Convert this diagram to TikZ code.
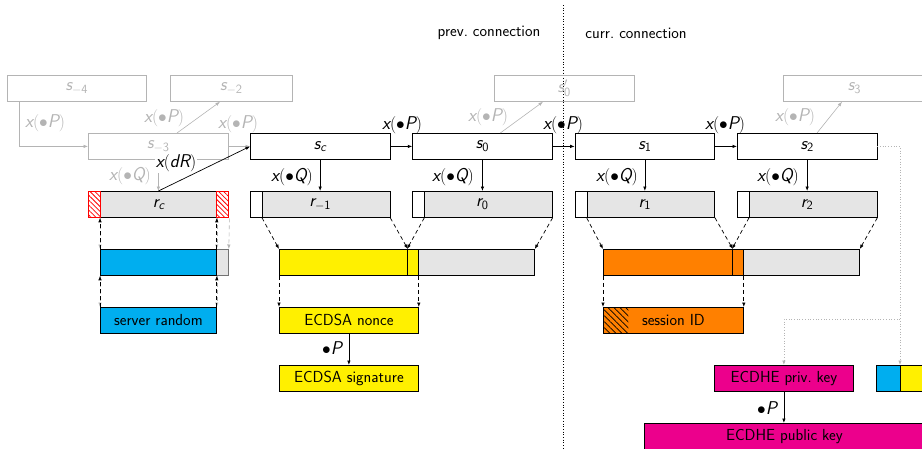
\documentclass[tikz,border=0pt]{standalone}
\usepackage{fontspec}
\usetikzlibrary{arrows.meta,patterns.meta,calc}
\DeclareMathAlphabet{\msl}{TU}{lmss}{m}{sl}
\DeclareMathAlphabet{\msf}{TU}{lmss}{m}{n}
\definecolor{cblue}{HTML}{00AEEF}
\definecolor{cyel}{HTML}{FFF000}
\definecolor{corange}{HTML}{FF8000}
\definecolor{cmag}{HTML}{EC008C}
\definecolor{cgray}{HTML}{E5E5E5}
\definecolor{ghostc}{HTML}{B4B4B4}
\begin{document}
\begin{tikzpicture}[x=1pt,y=-1pt, font=\fontsize{16}{19}\selectfont\sffamily,
  box/.style={draw, line width=0.8pt, inner sep=0pt, anchor=north west, minimum height=26pt, minimum width=139.5pt},
  mfont/.style={font=\fontsize{18}{20}\selectfont},
  ghost/.style={box, mfont, draw=ghostc, text=ghostc},
  redbox/.style={box, minimum width=12pt, draw=red, line width=1.4pt, pattern={Lines[angle=-45,distance=3.5pt,line width=0.8pt]}, pattern color=red},
  lab/.style={inner sep=1pt, font=\fontsize{18.5}{21}\selectfont},
  glab/.style={lab, text=ghostc},
  tip/.style={-{Latex[length=4.5pt,width=3.5pt]}},
  arr/.style={tip, line width=0.7pt},
  garr/.style={tip, draw=ghostc, line width=0.6pt},
  bdash/.style={arr, dash pattern=on 4pt off 3pt},
  gdash/.style={garr, dash pattern=on 4pt off 3pt},
  dotarr/.style={tip, draw=ghostc, line width=0.7pt, dotted},
]
\useasboundingbox (0,0) rectangle (922,448);

% titles and divider
\node (tprev) at (489,33) {prev.\ connection};
\node (tcurr) at (636,33) {curr.\ connection};
\coordinate (dtop) at (563,5);
\coordinate (dbot) at (563,448);
\draw[dotted, line width=0.7pt] (dtop) -- (dbot);

% ghost states
\node[ghost, minimum width=139pt] (sm4) at (7,75) {$\msl{s}_{-\msf{4}}$};
\node[ghost, minimum width=122pt] (sm2) at (170,75) {$\msl{s}_{-\msf{2}}$};
\node[ghost] (s0p) at (494,75) {$\msl{s}'_{\msf{0}}$};
\node[ghost, minimum width=142pt] (s3) at (783,75) {$\msl{s}_{\msf{3}}$};
\node[ghost, minimum width=140pt] (sm3) at (88,133) {$\msl{s}_{-\msf{3}}$};

% states
\node[box, mfont] (sc) at (250,133) {$\msl{s}_{\msl{c}}$};
\node[box, mfont] (s0) at (412.3,133) {$\msl{s}_{\msf{0}}$};
\node[box, mfont] (s1) at (574.7,133) {$\msl{s}_{\msf{1}}$};
\node[box, mfont] (s2) at (737,133) {$\msl{s}_{\msf{2}}$};

% outputs r
\node[box, fill=cgray, minimum width=116pt] (rcG) at (100,191) {};
\node[redbox] (rcL) at (88,191) {};
\node[redbox] (rcR) at (216,191) {};
\node[mfont] (rclab) at ($(rcL.west)!0.5!(rcR.east)$) {$\msl{r}_{\msl{c}}$};
\node[box, fill=cgray, minimum width=127.5pt] (rm1g) at (262,191) {};
\node[box, mfont] (rm1) at (250,191) {$\msl{r}_{-\msf{1}}$};
\node[box, fill=cgray, minimum width=127.5pt] (r0g) at (424.3,191) {};
\node[box, mfont] (r0) at (412.3,191) {$\msl{r}_{\msf{0}}$};
\node[box, fill=cgray, minimum width=127.5pt] (r1g) at (586.7,191) {};
\node[box, mfont] (r1) at (574.7,191) {$\msl{r}_{\msf{1}}$};
\node[box, fill=cgray, minimum width=127.5pt] (r2g) at (749,191) {};
\node[box, mfont] (r2) at (737,191) {$\msl{r}_{\msf{2}}$};

% bars
\node[box, fill=cgray, draw=black!55, minimum width=12pt] (blE) at (216,249) {};
\node[box, fill=cblue, minimum width=116pt] (blA) at (100,249) {};
\node[box, fill=cgray, minimum width=116pt] (yeC) at (418,249) {};
\node[box, fill=cyel, minimum width=128pt] (yeA) at (279,249) {};
\node[box, fill=cyel, minimum width=11pt] (yeB) at (407,249) {};
\node[box, fill=cgray, minimum width=116pt] (orC) at (743,249) {};
\node[box, fill=corange, minimum width=129pt] (orA) at (603,249) {};
\node[box, fill=corange, minimum width=11pt] (orB) at (732,249) {};

% derived values
\node[box, fill=cblue, minimum width=116pt] (srv) at (100,307) {server random};
\node[box, fill=cyel, minimum width=139pt] (nonce) at (279,307) {ECDSA nonce};
\node[box, fill=corange, minimum width=140pt,
  path picture={\path[pattern={Lines[angle=-45,distance=4.2pt,line width=0.7pt]}, pattern color=black]
    (path picture bounding box.north west) rectangle ([xshift=25pt]path picture bounding box.south west);}]
  (sess) at (603,307) {session ID};
\node[box, fill=cyel, minimum width=139pt] (sig) at (279,365) {ECDSA signature};
\node[box, fill=cmag, minimum width=139pt] (priv) at (714,365) {ECDHE priv.\ key};
\node[box, fill=cblue, minimum width=24pt] (smB) at (876,365) {};
\node[box, fill=cyel, minimum width=30pt] (smY) at (900,365) {};
\node[box, fill=cmag, minimum width=280pt] (pub) at (644,423) {ECDHE public key};

% ghost connectors
\draw[garr] ([xshift=12pt]sm4.south west) |- (sm3.west);
\node[glab] (lg1) at (45,123) {$\msl{x}(\bullet\msl{P})$};
\draw[garr] ([xshift=89pt]sm3.north west) -- ([xshift=50pt]sm2.south west);
\node[glab] (lg2) at (164,118) {$\msl{x}(\bullet\msl{P})$};
\draw[garr] (sm3.east) -- (sc.west);
\node[glab] (lg3) at (238,124) {$\msl{x}(\bullet\msl{P})$};
\draw[garr] (sm3.south) -- (rcG.north);
\node[glab] (lg4) at (130,176) {$\msl{x}(\bullet\msl{Q})$};
\draw[garr] ([xshift=88pt]s0.north west) -- ([xshift=49pt]s0p.south west);
\node[glab] (lg5) at (488,117) {$\msl{x}(\bullet\msl{P})$};
\draw[garr] ([xshift=80pt]s2.north west) -- ([xshift=59pt]s3.south west);
\node[glab] (lg6) at (795,117) {$\msl{x}(\bullet\msl{P})$};

% x(dR)
\node[lab, fill=white] (ldr) at (176,163) {$\msl{x}(\msl{dR})$};
\draw[arr] (rcG.north) -- (sc.west);

% main chain
\draw[arr] (sc.east) -- (s0.west);
\node[lab] (lp1) at (402,125) {$\msl{x}(\bullet\msl{P})$};
\draw[arr] (s0.east) -- (s1.west);
\node[lab] (lp2) at (563,125) {$\msl{x}(\bullet\msl{P})$};
\draw[arr] (s1.east) -- (s2.west);
\node[lab] (lp3) at (725,125) {$\msl{x}(\bullet\msl{P})$};

\draw[arr] (sc.south) -- (rm1.north);
\node[lab] (lq1) at (292,177) {$\msl{x}(\bullet\msl{Q})$};
\draw[arr] (s0.south) -- (r0.north);
\node[lab] (lq2) at (453,177) {$\msl{x}(\bullet\msl{Q})$};
\draw[arr] (s1.south) -- (r1.north);
\node[lab] (lq3) at (617,177) {$\msl{x}(\bullet\msl{Q})$};
\draw[arr] (s2.south) -- (r2.north);
\node[lab] (lq4) at (778,177) {$\msl{x}(\bullet\msl{Q})$};

% dashed: server random
\draw[gdash] (rcG.south west) -- (blA.north west);
\draw[gdash] (rcG.south east) -- (blA.north east);
\draw[gdash] (rcR.south east) -- (blE.north east);
\draw[bdash] (blA.north west) -- (rcG.south west);
\draw[bdash] (blA.north east) -- (rcG.south east);
\draw[gdash] (blA.south west) -- (srv.north west);
\draw[gdash] (blA.south east) -- (srv.north east);
\draw[bdash] (srv.north west) -- (blA.south west);
\draw[bdash] (srv.north east) -- (blA.south east);

% dashed: nonce
\draw[bdash] (rm1g.south west) -- (yeA.north west);
\draw[bdash] (rm1.south east) -- (yeA.north east);
\draw[bdash] (r0g.south west) -- (yeB.north west);
\draw[bdash] (r0.south east) -- (yeC.north east);
\draw[bdash] (yeA.south west) -- (nonce.north west);
\draw[bdash] (yeB.south east) -- (nonce.north east);

% dashed: session ID
\draw[bdash] (r1g.south west) -- (orA.north west);
\draw[bdash] (r1.south east) -- (orA.north east);
\draw[bdash] (r2g.south west) -- (orB.north west);
\draw[bdash] (r2.south east) -- (orC.north east);
\draw[bdash] (orA.south west) -- (sess.north west);
\draw[bdash] (orB.south east) -- (sess.north east);

% solid
\draw[arr] (nonce.south) -- (sig.north);
\node[lab] (lb1) at (332,348) {$\bullet\msl{P}$};
\draw[arr] (priv.south) -- (priv.south |- pub.north);
\node[lab] (lb2) at (767,408) {$\bullet\msl{P}$};

% dotted
\draw[dotarr] (s2.east) -| (smY.north west);
\coordinate (br) at (900,319);
\draw[dotarr] (br) -| (priv.north);
\end{tikzpicture}
\end{document}
